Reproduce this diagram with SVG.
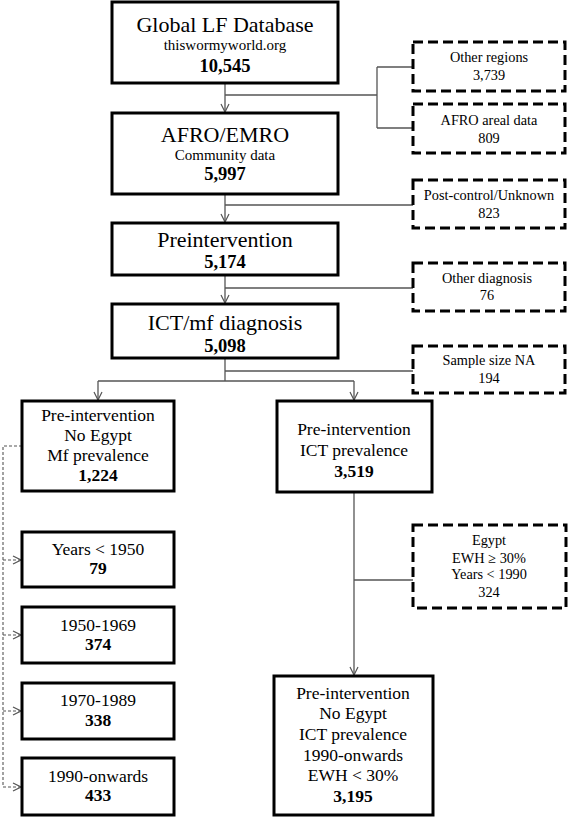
<svg xmlns="http://www.w3.org/2000/svg" width="568" height="817" viewBox="0 0 568 817">
<style>
.box{fill:#fff;stroke:#000;stroke-width:3}
.dbox{fill:#fff;stroke:#000;stroke-width:3;stroke-dasharray:10,5}
text{font-family:"Liberation Serif","Times New Roman",serif;fill:#000;text-anchor:middle}
.t1{font-size:22px}
.t2{font-size:15px}
.n1{font-size:18.5px;font-weight:bold}
.t3{font-size:17.5px}
.n3{font-size:17.5px;font-weight:bold}
.td{font-size:14.3px}
.con{fill:none;stroke:#555;stroke-width:1.3}
.dcon{fill:none;stroke:#555;stroke-width:1.1;stroke-dasharray:3,2}
</style>
<defs>
<marker id="ah" markerWidth="10" markerHeight="10" refX="9" refY="5" orient="auto" markerUnits="userSpaceOnUse">
<path d="M1,1 L9,5 L1,9" fill="none" stroke="#555" stroke-width="1.2"/>
</marker>
</defs>
<g id="connectors">
<path class="con" d="M225,83 V112" marker-end="url(#ah)"/>
<path class="con" d="M225,95 H377 M377,67 V128 M377,67 H413 M377,128 H413"/>
<path class="con" d="M225,194 V222" marker-end="url(#ah)"/>
<path class="con" d="M225,205 H413"/>
<path class="con" d="M225,275 V303" marker-end="url(#ah)"/>
<path class="con" d="M225,288 H413"/>
<path class="con" d="M225,358 V381 M225,371 H413 M98,381 H354"/>
<path class="con" d="M98,381 V400" marker-end="url(#ah)"/>
<path class="con" d="M354,381 V400" marker-end="url(#ah)"/>
<path class="con" d="M354,492 V675" marker-end="url(#ah)"/>
<path class="con" d="M354,580 H413"/>
<path class="dcon" d="M22,446 H3 V787"/>
<path class="dcon" d="M3,560 H21" marker-end="url(#ah)"/>
<path class="dcon" d="M3,635 H21" marker-end="url(#ah)"/>
<path class="dcon" d="M3,711 H21" marker-end="url(#ah)"/>
<path class="dcon" d="M3,787 H21" marker-end="url(#ah)"/>
</g>
<g id="global">
<rect class="box" x="112" y="2" width="226" height="81"/>
<text class="t1" x="225" y="32">Global LF Database</text>
<text class="t2" x="225" y="50">thiswormyworld.org</text>
<text class="n1" x="225" y="72">10,545</text>
</g>
<g id="other-regions">
<rect class="dbox" x="413" y="42" width="152" height="49"/>
<text class="td" x="489" y="62">Other regions</text>
<text class="td" x="489" y="80">3,739</text>
</g>
<g id="afro-areal">
<rect class="dbox" x="413" y="104" width="152" height="49"/>
<text class="td" x="489" y="125">AFRO areal data</text>
<text class="td" x="489" y="143">809</text>
</g>
<g id="afro-emro">
<rect class="box" x="112" y="113" width="226" height="81"/>
<text class="t1" x="225" y="142">AFRO/EMRO</text>
<text class="t2" x="225" y="160">Community data</text>
<text class="n1" x="225" y="180">5,997</text>
</g>
<g id="post-control">
<rect class="dbox" x="413" y="180" width="152" height="48"/>
<text class="td" x="489" y="200">Post-control/Unknown</text>
<text class="td" x="489" y="218">823</text>
</g>
<g id="preintervention">
<rect class="box" x="112" y="223" width="226" height="52"/>
<text class="t1" x="225" y="247">Preintervention</text>
<text class="n1" x="225" y="268">5,174</text>
</g>
<g id="other-diagnosis">
<rect class="dbox" x="413" y="263" width="152" height="48"/>
<text class="td" x="487" y="283">Other diagnosis</text>
<text class="td" x="487" y="300">76</text>
</g>
<g id="ict-mf">
<rect class="box" x="112" y="304" width="226" height="54"/>
<text class="t1" x="225" y="330">ICT/mf diagnosis</text>
<text class="n1" x="225" y="352">5,098</text>
</g>
<g id="sample-size">
<rect class="dbox" x="413" y="346" width="152" height="47"/>
<text class="td" x="489" y="365">Sample size NA</text>
<text class="td" x="489" y="383">194</text>
</g>
<g id="mf-prevalence">
<rect class="box" x="22" y="401" width="152" height="90"/>
<text class="t3" x="98" y="421">Pre-intervention</text>
<text class="t3" x="98" y="441">No Egypt</text>
<text class="t3" x="98" y="461">Mf prevalence</text>
<text class="n3" x="98" y="481">1,224</text>
</g>
<g id="ict-prevalence">
<rect class="box" x="277" y="401" width="155" height="91"/>
<text class="t3" x="354" y="435">Pre-intervention</text>
<text class="t3" x="354" y="456">ICT prevalence</text>
<text class="n3" x="354" y="477">3,519</text>
</g>
<g id="years-1950">
<rect class="box" x="22" y="532" width="152" height="55"/>
<text class="t3" x="98" y="555">Years &lt; 1950</text>
<text class="n3" x="98" y="574">79</text>
</g>
<g id="y1950-1969">
<rect class="box" x="22" y="607" width="152" height="56"/>
<text class="t3" x="98" y="631">1950-1969</text>
<text class="n3" x="98" y="650">374</text>
</g>
<g id="y1970-1989">
<rect class="box" x="22" y="683" width="152" height="56"/>
<text class="t3" x="98" y="706">1970-1989</text>
<text class="n3" x="98" y="726">338</text>
</g>
<g id="y1990-onwards">
<rect class="box" x="22" y="758" width="152" height="57"/>
<text class="t3" x="98" y="782">1990-onwards</text>
<text class="n3" x="98" y="801">433</text>
</g>
<g id="egypt">
<rect class="dbox" x="413" y="525" width="153" height="83"/>
<text class="td" x="489" y="545">Egypt</text>
<text class="td" x="489" y="563">EWH ≥ 30%</text>
<text class="td" x="489" y="579">Years &lt; 1990</text>
<text class="td" x="489" y="597">324</text>
</g>
<g id="final">
<rect class="box" x="274" y="676" width="159" height="139"/>
<text class="t3" x="353" y="699">Pre-intervention</text>
<text class="t3" x="353" y="719">No Egypt</text>
<text class="t3" x="353" y="740">ICT prevalence</text>
<text class="t3" x="353" y="761">1990-onwards</text>
<text class="t3" x="353" y="781">EWH &lt; 30%</text>
<text class="n3" x="353" y="802">3,195</text>
</g>
</svg>
